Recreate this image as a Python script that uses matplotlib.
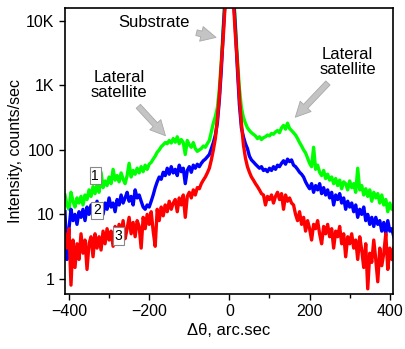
import numpy as np
import matplotlib.pyplot as plt
from matplotlib.ticker import FixedLocator, FixedFormatter

plt.rcParams['font.family'] = ['Liberation Sans', 'DejaVu Sans']

# angle grid, arc.sec (step 5)
theta = np.arange(-410, 411, 5)

# curve 1 (green)
green_left = [20, 14, 12, 22, 16, 13, 18, 15, 19, 14,
              20, 17, 24, 19, 27, 21, 30, 22, 45, 26,
              33, 28, 38, 30, 50, 34, 40, 32, 44, 35,
              30, 40, 62, 38, 48, 42, 52, 44, 55, 46,
              58, 50, 60, 64, 72, 80, 92, 100, 112, 120,
              130, 125, 140, 128, 150, 132, 160, 125, 145, 130,
              85, 140, 120, 110, 130, 105, 95, 100, 105, 115,
              110, 125, 140]
green_mid = [190, 260, 330, 450, 900, 2500, 9000, 30000, 200000,
             1000000,
             200000, 30000, 9000, 2500, 900, 450, 320, 260, 220]
green_right = [200, 185, 175, 165, 150, 160, 145, 155, 160, 170,
               165, 180, 175, 190, 200, 185, 220, 240, 210, 260,
               215, 200, 185, 170, 150, 130, 115, 100, 90, 75,
               62, 55, 110, 50, 58, 45, 40, 48, 36, 42,
               34, 38, 30, 36, 28, 34, 25, 32, 30, 24,
               33, 26, 30, 22, 52, 24, 28, 20, 25, 19,
               24, 16, 22, 18, 21, 15, 20, 14, 17, 11,
               15, 12, 13]

# curve 2 (blue)
blue_left = [11, 2, 6, 12, 8, 10, 7, 11, 9, 12,
             8, 13, 10, 14, 9, 12, 16, 11, 14, 10,
             15, 12, 18, 13, 15, 11, 17, 14, 20, 15,
             18, 22, 16, 19, 14, 24, 18, 20, 16, 13,
             12, 14, 13, 16, 20, 26, 32, 38, 35, 45,
             40, 52, 42, 55, 44, 50, 40, 58, 46, 52,
             30, 48, 55, 45, 58, 52, 60, 55, 62, 68,
             72, 78, 85]
blue_mid = [105, 130, 170, 260, 600, 1800, 7500, 25000, 170000,
            1000000,
            170000, 25000, 7500, 1800, 500, 220, 160, 125, 105]
blue_right = [80, 70, 65, 60, 56, 52, 55, 48, 50, 46,
              52, 48, 55, 50, 58, 55, 62, 68, 60, 72,
              66, 70, 58, 55, 50, 45, 42, 38, 32, 28,
              25, 30, 22, 28, 24, 30, 21, 26, 20, 24,
              18, 22, 14, 20, 17, 21, 15, 18, 12, 16,
              13, 15, 11, 14, 9, 12, 10, 13, 8, 10,
              7, 9, 6.5, 9, 7, 8, 5.5, 7.5, 5, 8,
              5.5, 6, 4.5]

# curve 3 (red)
red_left = [5, 3, 6, 0.8, 4, 1.5, 3.5, 2, 5, 2.5,
            4, 1.4, 3.5, 4.5, 2.2, 5, 3, 4.5, 2.8, 5.5,
            3.5, 6, 4, 5.5, 3.2, 6.5, 4.5, 7, 5, 8,
            4.2, 6, 9, 5, 7.5, 4.5, 8, 6.5, 3, 9,
            6, 10, 7, 11, 5.5, 3.2, 12, 8, 13, 9.5,
            14, 11, 16, 12, 15, 17, 11, 18, 14, 20,
            9, 19, 22, 18, 24, 20, 26, 25, 30, 34,
            38, 44, 52]
red_mid = [70, 100, 150, 300, 700, 2200, 6000, 20000, 150000,
           1000000,
           150000, 20000, 6000, 2200, 650, 260, 120, 75, 55]
red_right = [45, 38, 34, 30, 27, 24, 21, 20, 14, 19,
             17, 20, 15, 19, 22, 17, 21, 12, 20, 16,
             18, 15, 14, 10, 8, 11, 7, 9, 5.5, 8,
             6, 4, 7, 6, 8, 5, 3.5, 6.5, 5, 7,
             4.5, 6, 3, 5.5, 4.5, 6.5, 3.5, 5, 2.2, 4.5,
             3.5, 5, 3, 4, 2, 4.5, 2.8, 1.5, 3.5, 0.7,
             2.5, 1.8, 4, 2, 0.9, 3, 1.6, 2.5, 5, 1.4,
             3, 2, 3]

green = green_left + green_mid + green_right
blue = blue_left + blue_mid + blue_right
red = red_left + red_mid + red_right

fig = plt.figure(figsize=(4.06, 3.49), dpi=100)
ax = fig.add_axes([0.160, 0.158, 0.808, 0.819])

ax.plot(theta, green, color='#00ff00', lw=2.4)
ax.plot(theta, blue, color='#0000ff', lw=2.4)
ax.plot(theta, red, color='#ff0000', lw=2.4)

ax.set_yscale('log')
ax.set_xlim(-410, 408)
ax.set_ylim(0.585, 15900)

ax.yaxis.set_major_locator(FixedLocator([1, 10, 100, 1000, 10000]))
ax.yaxis.set_major_formatter(FixedFormatter(['1', '10', '100', '1K', '10K']))
ax.yaxis.set_minor_locator(FixedLocator([]))
ax.set_xticks([-400, -200, 0, 200, 400])
ax.set_xticks([-300, -100, 100, 300], minor=True)
ax.tick_params(which='major', direction='out', length=4, width=1, labelsize=11.5)
ax.tick_params(which='minor', direction='out', length=3, width=1)
for s in ax.spines.values():
    s.set_linewidth(1.2)

ax.set_xlabel('\u0394\u03b8, arc.sec', fontsize=12, labelpad=3)
ax.set_ylabel('Intensity, counts/sec', fontsize=11.5, labelpad=2)

arrow = dict(arrowstyle='simple,head_width=0.9,head_length=0.9,tail_width=0.35',
             fc='#c4c4c4', ec='#a8a8a8', lw=0.6, shrinkA=3, shrinkB=1)
ax.annotate('Substrate', xy=(-30, 5500), xytext=(-188, 9500),
            fontsize=12, ha='center', va='center', arrowprops=arrow)
ax.annotate('Lateral\nsatellite', xy=(-157, 160), xytext=(-275, 1000),
            fontsize=12, ha='center', va='center', linespacing=1.0,
            arrowprops=arrow)
ax.annotate('Lateral\nsatellite', xy=(162, 310), xytext=(295, 2300),
            fontsize=12, ha='center', va='center', linespacing=1.0,
            arrowprops=arrow)

box = dict(boxstyle='square,pad=0.12', fc='white', ec='#888888', lw=0.8)
ax.text(-335, 40, '1', fontsize=10, ha='center', va='center', bbox=box)
ax.text(-330, 11.5, '2', fontsize=10, ha='center', va='center', bbox=box)
ax.text(-277, 4.6, '3', fontsize=10, ha='center', va='center', bbox=box)

fig.savefig('out.png', dpi=100)
